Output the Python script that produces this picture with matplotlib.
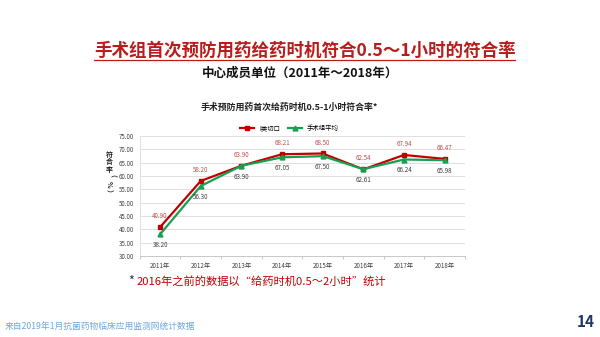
import numpy as np
import matplotlib.pyplot as plt
from matplotlib.lines import Line2D

plt.rcParams['font.family'] = ['Noto Sans CJK SC', 'DejaVu Sans']

years = ["2011年", "2012年", "2013年", "2014年", "2015年", "2016年", "2017年", "2018年"]
class1 = [40.90, 58.20, 63.90, 68.21, 68.50, 62.54, 67.94, 66.47]
group_avg = [38.20, 56.30, 63.90, 67.05, 67.50, 62.61, 66.24, 65.98]
series_names = ["I类切口", "手术组平均"]
y_ticks = np.arange(30, 75.1, 5)

red = "#c00000"
green = "#16a050"

fig = plt.figure(figsize=(6, 3.37), dpi=100)
ax = fig.add_axes([0.233, 0.240, 0.542, 0.356])

x = np.arange(len(years))
ax.plot(x, class1, color=red, lw=1.6, marker="s", ms=3.5, label=series_names[0], zorder=3)
ax.plot(x, group_avg, color=green, lw=1.6, marker="^", ms=3.5, label=series_names[1], zorder=3)

for xi, v in zip(x, class1):
    ax.annotate(f"{v:.2f}", (xi, v), xytext=(0, 5), textcoords="offset points",
                ha="center", va="bottom", fontsize=4.5, color="#c0504d")
for xi, v in zip(x, group_avg):
    ax.annotate(f"{v:.2f}", (xi, v), xytext=(0, -5), textcoords="offset points",
                ha="center", va="top", fontsize=4.5, color="#404040")

ax.set_xlim(-0.5, len(years) - 0.5)
ax.set_ylim(30, 75)
ax.set_yticks(y_ticks)
ax.set_yticklabels([f"{t:.2f}" for t in y_ticks], fontsize=4.4, color="#404040")
ax.set_xticks(x)
ax.set_xticklabels(years, fontsize=4.5, color="#404040")
ax.set_xticks(np.arange(-0.5, len(years), 1), minor=True)
ax.tick_params(axis="x", which="major", length=0, pad=4)
ax.tick_params(axis="x", which="minor", length=2, color="#bfbfbf")
ax.tick_params(axis="y", length=0, pad=4)
ax.grid(axis="y", color="#d9d9d9", lw=0.6)
ax.set_axisbelow(True)
for side in ["top", "right"]:
    ax.spines[side].set_visible(False)
ax.spines["left"].set_color("#d9d9d9")
ax.spines["bottom"].set_color("#bfbfbf")
ax.spines["left"].set_linewidth(0.6)
ax.spines["bottom"].set_linewidth(0.6)

# vertical axis title, one character per line; the bracketed unit is turned sideways
for i, ch in enumerate("符合率（%）"):
    ax.text(-0.095, 0.85 - i * 0.064, ch, transform=ax.transAxes, ha="center", va="center",
            rotation=0 if i < 3 else 270, fontsize=5.0, fontweight="bold", color="#222222")

ax.legend(loc="lower center", bbox_to_anchor=(0.46, 1.0), ncol=2, frameon=False,
          fontsize=4.6, handlelength=2.2, columnspacing=1.2, borderaxespad=0.2)

# headings
fig.text(0.508, 0.850, "手术组首次预防用药给药时机符合0.5～1小时的符合率",
         ha="center", va="center", fontsize=12.6, color="#b81c1c", fontweight="bold")
fig.add_artist(Line2D([0.157, 0.858], [0.822, 0.822], color="#b81c1c", lw=0.9))
fig.text(0.500, 0.783, "中心成员单位（2011年～2018年）", ha="center", va="center",
         fontsize=9, fontweight="bold", color="#111111")
fig.text(0.482, 0.682, "手术预防用药首次给药时机0.5-1小时符合率*", ha="center", va="center",
         fontsize=6.4, fontweight="bold", color="#222222")

# footnotes
fig.text(0.213, 0.166, "*", ha="left", va="center", fontsize=9, color="#1f3864")
fig.text(0.228, 0.166, "2016年之前的数据以“给药时机0.5～2小时”统计", ha="left", va="center",
         fontsize=8.1, color=red)
fig.text(0.008, 0.032, "来自2019年1月抗菌药物临床应用监测网统计数据", ha="left", va="center",
         fontsize=6.3, color="#6fa8dc")
fig.text(0.962, 0.045, "14", ha="left", va="center", fontsize=11, fontweight="bold",
         color="#1f3864")

fig.savefig("out.png", dpi=100)
